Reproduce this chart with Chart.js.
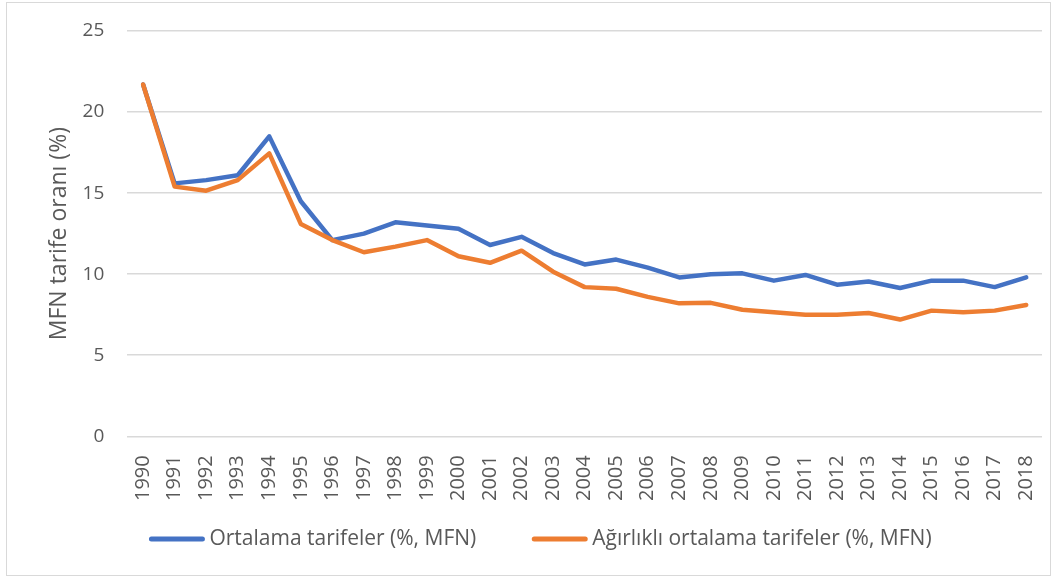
<!DOCTYPE html>
<html>
<head>
<meta charset="utf-8">
<script src="https://cdn.jsdelivr.net/npm/chart.js@4.4.1/dist/chart.umd.min.js"></script>
<style>
  html, body { margin: 0; padding: 0; background: #ffffff; }
  #wrap { position: relative; width: 1058px; height: 579px; }
  #frame { position: absolute; left: 6px; top: 2px; width: 1045px; height: 574px; border: 1px solid #d9d9d9; box-sizing: border-box; pointer-events: none; }
  canvas { position: absolute; left: 0; top: 0; }
</style>
</head>
<body>
<div id="wrap">
  <canvas id="c" width="1058" height="579"></canvas>
  <div id="frame"></div>
</div>
<script>
const years = ["1990","1991","1992","1993","1994","1995","1996","1997","1998","1999","2000","2001","2002","2003","2004","2005","2006","2007","2008","2009","2010","2011","2012","2013","2014","2015","2016","2017","2018"];
const ortalama = [21.7,15.6,15.8,16.1,18.5,14.5,12.1,12.5,13.2,13.0,12.8,11.8,12.3,11.3,10.6,10.9,10.4,9.8,10.0,10.05,9.6,9.95,9.35,9.55,9.15,9.6,9.6,9.2,9.8];
const agirlikli = [21.7,15.4,15.15,15.8,17.45,13.1,12.1,11.35,11.7,12.1,11.1,10.7,11.45,10.15,9.2,9.1,8.6,8.2,8.23,7.8,7.65,7.5,7.5,7.6,7.2,7.75,7.65,7.75,8.1];
const yTicks = [0,5,10,15,20,25];
const seriesNames = ["Ortalama tarifeler (%, MFN)", "Ağırlıklı ortalama tarifeler (%, MFN)"];
const yTitle = "MFN tarife oranı (%)";

const FONT = "'Open Sans', sans-serif";
const TXT = "#595959";

const customLegend = {
  id: 'customLegend',
  afterDraw(chart) {
    const ctx = chart.ctx;
    const ds = chart.data.datasets;
    const fs = 21;
    ctx.save();
    ctx.font = fs + "px " + FONT;
    const sample = 55, gapText = 5, gapItems = 56;
    const widths = ds.map(d => ctx.measureText(d.label).width);
    let total = 0;
    widths.forEach((w, i) => { total += sample + gapText + w; if (i < widths.length - 1) total += gapItems; });
    let x = 540.5 - total / 2;
    const y = 539;
    ds.forEach((d, i) => {
      ctx.strokeStyle = d.borderColor;
      ctx.lineWidth = 5;
      ctx.lineCap = 'round';
      ctx.beginPath();
      ctx.moveTo(x + 2, y);
      ctx.lineTo(x + sample - 2, y);
      ctx.stroke();
      x += sample + gapText;
      ctx.fillStyle = TXT;
      ctx.textBaseline = 'middle';
      ctx.textAlign = 'left';
      ctx.fillText(d.label, x, y);
      x += widths[i] + gapItems;
    });
    ctx.restore();
  }
};

new Chart(document.getElementById('c'), {
  type: 'line',
  data: {
    labels: years,
    datasets: [
      { label: seriesNames[0], data: ortalama, borderColor: '#4472C4', backgroundColor: '#4472C4', borderWidth: 4.5, pointRadius: 0, tension: 0, borderJoinStyle: 'round', borderCapStyle: 'round', order: 1 },
      { label: seriesNames[1], data: agirlikli, borderColor: '#ED7D31', backgroundColor: '#ED7D31', borderWidth: 4.5, pointRadius: 0, tension: 0, borderJoinStyle: 'round', borderCapStyle: 'round', order: 0 }
    ]
  },
  options: {
    responsive: false,
    animation: false,
    devicePixelRatio: 1,
    layout: { padding: { left: 46, right: 16, top: 31, bottom: 59 } },
    plugins: {
      legend: { display: false },
      tooltip: { enabled: false }
    },
    scales: {
      x: {
        type: 'category',
        offset: true,
        afterFit(scale) { scale.paddingLeft = 0; scale.paddingRight = 0; },
        grid: { display: false, drawTicks: false },
        border: { display: false },
        ticks: { color: TXT, font: { family: FONT, size: 20 }, minRotation: 90, maxRotation: 90, autoSkip: false, padding: 19 }
      },
      y: {
        min: 0, max: 25,
        afterFit(scale) { scale.paddingTop = 0; scale.paddingBottom = 0; },
        afterBuildTicks(scale) { scale.ticks = yTicks.map(v => ({ value: v })); },
        grid: { color: '#d9d9d9', lineWidth: 1.5, drawTicks: false },
        border: { display: false },
        ticks: { color: TXT, font: { family: FONT, size: 19 }, padding: 23 },
        title: { display: true, text: yTitle, color: TXT, font: { family: FONT, size: 23 }, padding: { top: 0, bottom: -14 } }
      }
    }
  },
  plugins: [customLegend]
});
</script>
</body>
</html>
